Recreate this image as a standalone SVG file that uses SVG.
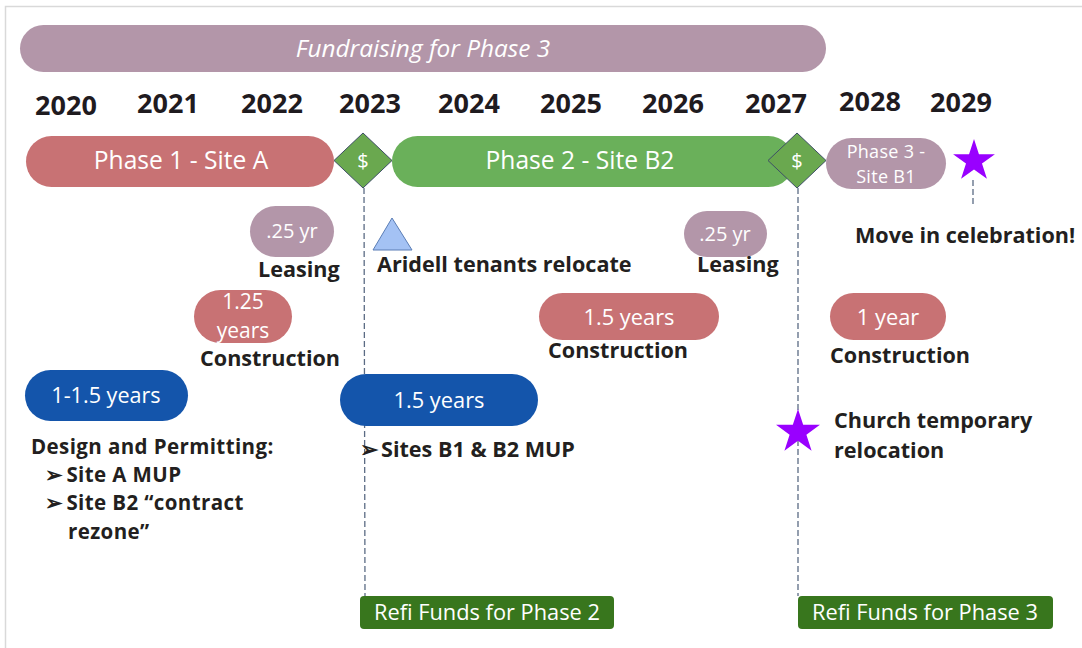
<svg xmlns="http://www.w3.org/2000/svg" width="1082" height="648" viewBox="0 0 1082 648">
<style>
text{font-family:"Open Sans","Noto Sans","Liberation Sans",sans-serif}
.yr{font-size:27px;font-weight:700;fill:#1f1b1f;text-anchor:middle}
.lbl{font-size:21.6px;font-weight:700;fill:#231f20}
.pt{fill:#fff;text-anchor:middle}
.mauve{fill:#b396a9}
.red{fill:#c87274}
.green{fill:#6ab05a}
.blue{fill:#1455ab}
.refi{fill:#38761d}
.dash{stroke:#5b6b84;stroke-width:1.3;stroke-dasharray:6,3;fill:none}
.dia{fill:#6aa84f;stroke:#3e4f66;stroke-width:1}
.star{fill:#9900ff}
</style>
<defs>
<path id="starShape" d="M0,-22 L4.94,-6.8 L20.92,-6.8 L7.99,2.6 L12.93,17.8 L0,8.4 L-12.93,17.8 L-7.99,2.6 L-20.92,-6.8 L-4.94,-6.8 Z"/>
</defs>
<rect x="5.5" y="6.5" width="1100" height="700" fill="#fff" stroke="#d9d9d9" stroke-width="1.5"/>

<g id="connectors">
<line class="dash" x1="364" y1="188" x2="365" y2="596"/>
<line class="dash" x1="798" y1="188" x2="798" y2="596"/>
<line class="dash" x1="973" y1="180" x2="973" y2="206"/>
</g>

<g id="fundraising">
<rect class="mauve" x="20" y="25" width="806" height="47" rx="23.5"/>
<text class="pt" x="423" y="57" font-size="24.4" font-style="italic">Fundraising for Phase 3</text>
</g>

<g id="years">
<text class="yr" x="66" y="115">2020</text>
<text class="yr" x="168" y="113">2021</text>
<text class="yr" x="272" y="113">2022</text>
<text class="yr" x="370" y="113">2023</text>
<text class="yr" x="469" y="113">2024</text>
<text class="yr" x="571" y="113">2025</text>
<text class="yr" x="673" y="113">2026</text>
<text class="yr" x="776" y="113">2027</text>
<text class="yr" x="870" y="111">2028</text>
<text class="yr" x="961" y="112">2029</text>
</g>

<g id="phase1">
<rect class="red" x="26" y="136" width="308" height="51" rx="25.5"/>
<text class="pt" x="181" y="169" font-size="24.6">Phase 1 - Site A</text>
</g>
<g id="refi-diamond-1">
<polygon class="dia" points="363,133 392,160.5 363,188 334,160.5"/>
<text class="pt" x="363" y="168" font-size="20">$</text>
</g>
<g id="phase2">
<rect class="green" x="392" y="136" width="402" height="51" rx="25.5"/>
<text class="pt" x="580" y="169" font-size="24.6">Phase 2 - Site B2</text>
</g>
<g id="refi-diamond-2">
<polygon class="dia" points="797,133 826,160.5 797,188 768,160.5"/>
<text class="pt" x="797" y="168" font-size="20">$</text>
</g>
<g id="phase3">
<rect class="mauve" x="826" y="138" width="120" height="51" rx="25.5"/>
<text class="pt" font-size="18" letter-spacing="0.3"><tspan x="886" y="158">Phase 3 -</tspan><tspan x="886" y="183">Site B1</tspan></text>
</g>
<g id="move-in">
<use href="#starShape" class="star" transform="translate(974,161)"/>
<text class="lbl" x="855" y="243">Move in celebration!</text>
</g>

<g id="leasing-1">
<rect class="mauve" x="250" y="206" width="84" height="51" rx="25.5"/>
<text class="pt" x="292" y="238" font-size="20">.25 yr</text>
<text class="lbl" x="258" y="277">Leasing</text>
</g>
<g id="aridell">
<polygon points="392,218 373,250 412,250" fill="#a4c2f4" stroke="#5a7db5" stroke-width="1"/>
<text class="lbl" x="377" y="272">Aridell tenants relocate</text>
</g>
<g id="leasing-2">
<rect class="mauve" x="684" y="211" width="83" height="46" rx="23"/>
<text class="pt" x="725" y="241" font-size="20">.25 yr</text>
<text class="lbl" x="697" y="272">Leasing</text>
</g>

<g id="construction-1">
<rect class="red" x="194" y="290" width="98" height="53" rx="26.5"/>
<text class="pt" font-size="21"><tspan x="243" y="309">1.25</tspan><tspan x="243" y="338">years</tspan></text>
<text class="lbl" x="200" y="366">Construction</text>
</g>
<g id="construction-2">
<rect class="red" x="539" y="293" width="180" height="47" rx="23.5"/>
<text class="pt" x="629" y="325" font-size="21.8">1.5 years</text>
<text class="lbl" x="548" y="358">Construction</text>
</g>
<g id="construction-3">
<rect class="red" x="830" y="293" width="116" height="47" rx="23.5"/>
<text class="pt" x="888" y="325" font-size="21.8">1 year</text>
<text class="lbl" x="830" y="363">Construction</text>
</g>

<g id="design-1">
<rect class="blue" x="25" y="370" width="163" height="51" rx="25.5"/>
<text class="pt" x="106" y="403" font-size="21.6">1-1.5 years</text>
<text class="lbl" font-size="20.5" letter-spacing="0.4" style="font-size:20.5px"><tspan x="31" y="454">Design and Permitting:</tspan><tspan x="45" y="482.2">➢</tspan><tspan dx="3">Site A MUP</tspan><tspan x="45" y="510.4">➢</tspan><tspan dx="3">Site B2 “contract</tspan><tspan x="68" y="538.6">rezone”</tspan></text>
</g>
<g id="design-2">
<rect class="blue" x="340" y="374" width="198" height="52" rx="26"/>
<text class="pt" x="439" y="408" font-size="21.8">1.5 years</text>
<text class="lbl" x="360" y="457">➢<tspan dx="3">Sites B1 &amp; B2 MUP</tspan></text>
</g>

<g id="church">
<use href="#starShape" class="star" transform="translate(798,432) scale(1.05)"/>
<text class="lbl"><tspan x="834" y="428">Church temporary</tspan><tspan x="834" y="457.6">relocation</tspan></text>
</g>

<g id="refi-2">
<rect class="refi" x="360" y="596" width="254" height="33" rx="4"/>
<text class="pt" x="487" y="620" font-size="21.8">Refi Funds for Phase 2</text>
</g>
<g id="refi-3">
<rect class="refi" x="798" y="596" width="255" height="33" rx="4"/>
<text class="pt" x="925" y="620" font-size="21.8">Refi Funds for Phase 3</text>
</g>
</svg>
